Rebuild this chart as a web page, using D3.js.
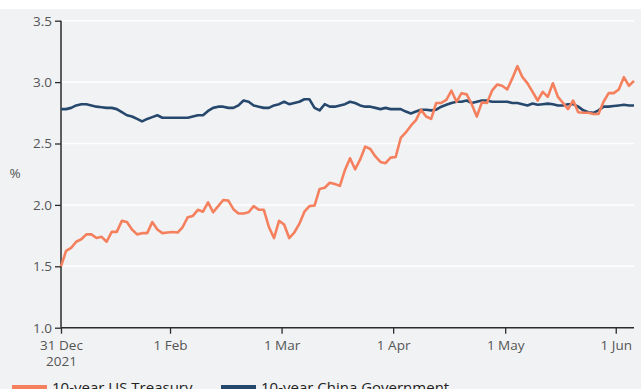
<!DOCTYPE html>
<html>
<head>
<meta charset="utf-8">
<script src="https://cdn.jsdelivr.net/npm/d3@7"></script>
<style>
  html, body { margin: 0; padding: 0; background: #fff; }
  svg { display: block; }
  text { font-family: "Open Sans", "Noto Sans", sans-serif; }
</style>
</head>
<body>
<div id="chart"></div>
<script>
// one value per trading day
const usTreasury = [
  1.50, 1.625, 1.65, 1.70, 1.72, 1.76, 1.76, 1.73, 1.74, 1.70,
  1.78, 1.78, 1.87, 1.86, 1.80, 1.76, 1.77, 1.77, 1.86, 1.80,
  1.77, 1.775, 1.78, 1.775, 1.82, 1.90, 1.91, 1.96, 1.945, 2.02,
  1.94, 1.99, 2.04, 2.035, 1.965, 1.93, 1.93, 1.94, 1.99, 1.96,
  1.96, 1.82, 1.73, 1.87, 1.84, 1.73, 1.775, 1.845, 1.945, 1.99,
  1.995, 2.13, 2.14, 2.18, 2.17, 2.155,
  2.285, 2.38, 2.29, 2.37, 2.475, 2.455, 2.395, 2.35, 2.34, 2.385,
  2.39, 2.545, 2.59, 2.645, 2.69, 2.775, 2.72, 2.70, 2.83, 2.83,
  2.855, 2.93, 2.84, 2.91, 2.90, 2.82, 2.72, 2.835, 2.83, 2.93,
  2.98, 2.97, 2.94, 3.03, 3.13, 3.04, 2.99, 2.92, 2.85, 2.92,
  2.88, 2.99, 2.88, 2.83, 2.78, 2.85, 2.755, 2.75, 2.75, 2.74,
  2.74, 2.84, 2.91, 2.91, 2.94, 3.04, 2.97, 3.01
];

const chinaGov = [
  2.78, 2.78, 2.79, 2.81, 2.82, 2.82, 2.81, 2.80, 2.795, 2.79,
  2.79, 2.78, 2.755, 2.73, 2.72, 2.70, 2.68, 2.70, 2.715, 2.73,
  2.71, 2.71, 2.71, 2.71, 2.71, 2.71, 2.72, 2.73, 2.73, 2.765,
  2.79, 2.80, 2.80, 2.79, 2.79, 2.81, 2.85, 2.84, 2.81, 2.80,
  2.79, 2.79, 2.81, 2.82, 2.84, 2.82, 2.83, 2.84, 2.86, 2.86,
  2.79, 2.77, 2.82, 2.80, 2.80, 2.81,
  2.82, 2.84, 2.83, 2.81, 2.80, 2.80, 2.79, 2.78, 2.79, 2.78,
  2.78, 2.78, 2.76, 2.745, 2.76, 2.775, 2.775, 2.77, 2.775, 2.80,
  2.815, 2.83, 2.84, 2.84, 2.85, 2.83, 2.84, 2.85, 2.85, 2.84,
  2.84, 2.84, 2.84, 2.83, 2.83, 2.82, 2.81, 2.825, 2.815, 2.82,
  2.825, 2.82, 2.81, 2.81, 2.82, 2.82, 2.80, 2.77, 2.755, 2.75,
  2.77, 2.80, 2.80, 2.805, 2.81, 2.815, 2.81, 2.81
];

// month starts, as positions in the trading-day sequence
const monthTickAt = [0, 21.5, 43.5, 65.5, 87.6, 109.4];
const monthTickLabels = [['31 Dec', '2021'], ['1 Feb'], ['1 Mar'], ['1 Apr'], ['1 May'], ['1 Jun']];

const yTicks = [1.0, 1.5, 2.0, 2.5, 3.0, 3.5];

const seriesNames = ['10-year US Treasury', '10-year China Government'];
const seriesColors = ['#f5805e', '#27486d'];

const chart = {
  width: 641,
  height: 389,
  margin: { top: 20.7, right: 7, bottom: 61.3, left: 61 },

  init() {
    this.svg = d3.select('#chart').append('svg')
      .attr('width', this.width)
      .attr('height', this.height);

    this.innerW = this.width - this.margin.left - this.margin.right;
    this.innerH = this.height - this.margin.top - this.margin.bottom;

    this.x = d3.scaleLinear()
      .domain([0, usTreasury.length - 1])
      .range([this.margin.left, this.margin.left + this.innerW]);
    this.y = d3.scaleLinear()
      .domain([1, 3.5])
      .range([this.margin.top + this.innerH, this.margin.top]);

    this.drawBackground();
    this.drawGrid();
    this.drawAxes();
    this.drawLines();
    this.drawLegend();
  },

  drawBackground() {
    this.svg.append('rect')
      .attr('x', 0).attr('y', 9)
      .attr('width', this.width).attr('height', this.height - 9)
      .attr('fill', '#f1f2f4');
  },

  drawGrid() {
    this.svg.append('g')
      .selectAll('line')
      .data(yTicks.slice(1))
      .join('line')
      .attr('x1', this.x.range()[0])
      .attr('x2', this.x.range()[1])
      .attr('y1', (d) => this.y(d))
      .attr('y2', (d) => this.y(d))
      .attr('stroke', '#fff')
      .attr('stroke-width', 1.5);
  },

  drawAxes() {
    const yAxis = d3.axisLeft(this.y)
      .tickValues(yTicks)
      .tickFormat(d3.format('.1f'))
      .tickSize(6)
      .tickPadding(3);

    const gy = this.svg.append('g')
      .attr('transform', `translate(${this.margin.left},0)`)
      .call(yAxis);
    gy.select('.domain').attr('stroke', '#2b2b2b').attr('stroke-width', 1.5)
      .attr('d', `M0,${this.y(3.5)}V${this.y(1)}`);
    gy.selectAll('.tick line').attr('stroke', '#2b2b2b').attr('stroke-width', 1.3);
    gy.selectAll('.tick text')
      .attr('fill', '#555')
      .style('font-size', '13.5px');

    const xAxis = d3.axisBottom(this.x)
      .tickValues(monthTickAt)
      .tickFormat('')
      .tickSize(6);

    const gx = this.svg.append('g')
      .attr('transform', `translate(0,${this.y(1)})`)
      .call(xAxis);
    gx.select('.domain').attr('stroke', '#2b2b2b').attr('stroke-width', 1.5)
      .attr('d', `M${this.x.range()[0]},0H${this.x.range()[1]}`);
    gx.selectAll('.tick line').attr('stroke', '#2b2b2b').attr('stroke-width', 1.3);

    gx.selectAll('.tick')
      .append('text')
      .attr('fill', '#555')
      .attr('text-anchor', 'middle')
      .style('font-size', '13.5px')
      .selectAll('tspan')
      .data((d, i) => monthTickLabels[i])
      .join('tspan')
      .attr('x', 0)
      .attr('y', (d, i) => 22 + i * 16)
      .text((d) => d);

    this.svg.append('text')
      .attr('x', 15)
      .attr('y', 178)
      .attr('text-anchor', 'middle')
      .attr('fill', '#555')
      .style('font-size', '13.5px')
      .text('%');
  },

  drawLines() {
    const line = d3.line()
      .x((d, i) => this.x(i))
      .y((d) => this.y(d));

    this.svg.append('g')
      .selectAll('path')
      .data([chinaGov, usTreasury])
      .join('path')
      .attr('d', line)
      .attr('fill', 'none')
      .attr('stroke', (d, i) => (i === 0 ? seriesColors[1] : seriesColors[0]))
      .attr('stroke-width', 2.6)
      .attr('stroke-linejoin', 'round');
  },

  drawLegend() {
    const items = this.svg.append('g')
      .selectAll('g')
      .data(seriesNames)
      .join('g')
      .attr('transform', (d, i) => `translate(${i === 0 ? 12 : 221},0)`);

    items.append('line')
      .attr('x1', 0).attr('x2', 35)
      .attr('y1', 387).attr('y2', 387)
      .attr('stroke', (d, i) => seriesColors[i])
      .attr('stroke-width', 4);

    items.append('text')
      .attr('x', 40)
      .attr('y', 393)
      .attr('fill', '#222')
      .style('font-size', '15px')
      .text((d) => d);
  }
};

chart.init();
</script>
</body>
</html>
